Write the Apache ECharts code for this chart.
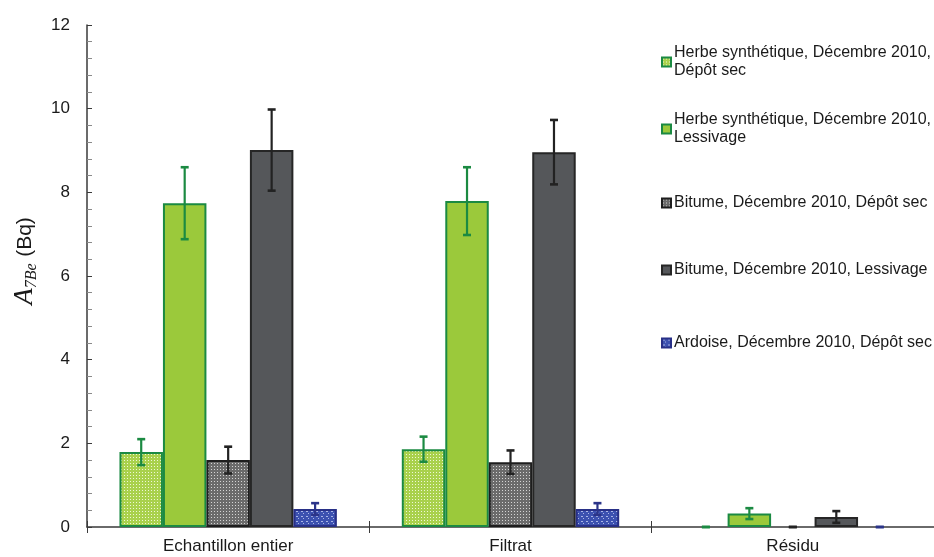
<!DOCTYPE html>
<html>
<head>
<meta charset="utf-8">
<script src="https://cdn.jsdelivr.net/npm/echarts@6/dist/echarts.min.js"></script>
<style>html,body{margin:0;padding:0;background:#fff;}#c{width:934px;height:557px;}</style>
</head>
<body>
<div id="c"></div>
<script>
const categories = ['Echantillon entier', 'Filtrat', 'Résidu'];
const seriesNames = [
  'Herbe synthétique, Décembre 2010, Dépôt sec',
  'Herbe synthétique, Décembre 2010, Lessivage',
  'Bitume, Décembre 2010, Dépôt sec',
  'Bitume, Décembre 2010, Lessivage',
  'Ardoise, Décembre 2010, Dépôt sec'
];
const herbeDepot = [1.79, 1.86, 0];
const herbeDepotErr = [0.31, 0.30, 0];
const herbeLess = [7.74, 7.79, 0.32];
const herbeLessErr = [0.86, 0.81, 0.13];
const bitumeDepot = [1.60, 1.55, 0];
const bitumeDepotErr = [0.32, 0.28, 0];
const bitumeLess = [9.01, 8.96, 0.24];
const bitumeLessErr = [0.97, 0.77, 0.14];
const ardoise = [0.43, 0.43, 0];
const ardoiseErr = [0.14, 0.14, 0];
const yTicks = [0, 2, 4, 6, 8, 10, 12];

const values = [herbeDepot, herbeLess, bitumeDepot, bitumeLess, ardoise];
const errors = [herbeDepotErr, herbeLessErr, bitumeDepotErr, bitumeLessErr, ardoiseErr];

function makePattern(size, bg, dot, dots) {
  const cv = document.createElement('canvas');
  cv.width = size; cv.height = size;
  const ctx = cv.getContext('2d');
  ctx.fillStyle = bg; ctx.fillRect(0, 0, size, size);
  ctx.fillStyle = dot;
  dots.forEach(d => ctx.fillRect(d[0], d[1], d[2] || 1, d[3] || 1));
  return { image: cv, repeat: 'repeat' };
}
const patHerbe = makePattern(3, '#a9d14c', '#eef7d6', [[1, 1]]);
const patBitume = makePattern(3, '#6b6b6b', '#d4d4d4', [[1, 1]]);
const patArdoise = makePattern(5, '#3c51b0', '#aab5e6', [[1, 1, 2, 1], [3, 3, 1, 1]]);

const fills = [patHerbe, '#9bc93b', patBitume, '#55575a', patArdoise];
const borders = ['#1b8a42', '#1b8a42', '#1e1e1e', '#262626', '#283087'];
const errColors = ['#1b8a42', '#1b8a42', '#222222', '#222222', '#2b3489'];

const gap = 0.23;
const nS = seriesNames.length;

const barSeries = seriesNames.map((name, i) => ({
  name: name,
  type: 'bar',
  barGap: '0%',
  barCategoryGap: (gap * 100) + '%',
  itemStyle: { color: fills[i], borderColor: borders[i], borderWidth: 2 },
  data: values[i].map(v => v === 0 ? { value: v, itemStyle: { borderWidth: 0 } } : v),
  z: 2
}));

const errData = [];
values.forEach((arr, s) => arr.forEach((v, c) => errData.push([c, s, v, errors[s][c]])));

const errSeries = {
  type: 'custom',
  name: 'err',
  z: 5,
  encode: { x: 0, y: 2 },
  data: errData,
  renderItem: function (params, api) {
    const cat = api.value(0), s = api.value(1), v = api.value(2), e = api.value(3);
    const bandW = api.size([1, 0])[0];
    const barW = bandW * (1 - gap) / nS;
    const c0 = api.coord([cat, 0]);
    const x = c0[0] + (s - (nS - 1) / 2) * barW;
    const yT = api.coord([cat, v + e])[1];
    const yB = api.coord([cat, Math.max(0, v - e)])[1];
    const hw = 4;
    const st = { stroke: errColors[s], lineWidth: 2.2 };
    return {
      type: 'group',
      children: [
        { type: 'line', shape: { x1: x, y1: yT, x2: x, y2: yB }, style: st },
        { type: 'line', shape: { x1: x - hw, y1: yT, x2: x + hw, y2: yT }, style: { stroke: errColors[s], lineWidth: 2.6 } },
        { type: 'line', shape: { x1: x - hw, y1: yB, x2: x + hw, y2: yB }, style: { stroke: errColors[s], lineWidth: 2.6 } }
      ]
    };
  }
};

const legendTops = [35, 102, 194, 261, 334];
const twoLine = [true, true, false, false, false];
const legends = seriesNames.map((n, i) => ({
  data: [n],
  left: 661,
  top: legendTops[i],
  orient: 'vertical',
  padding: 0,
  icon: 'rect',
  itemWidth: 9,
  itemHeight: 9,
  itemGap: 0,
  selectedMode: false,
  formatter: twoLine[i]
    ? function (name) { return name.replace('Décembre 2010, ', 'Décembre 2010,\n'); }
    : function (name) { return name; },
  textStyle: {
    fontFamily: 'Liberation Sans',
    fontSize: 16,
    color: '#1a1a1a',
    lineHeight: 18,
    padding: twoLine[i] ? [18, 0, 0, -2] : [0, 0, 0, -2]
  }
}));

const option = {
  animation: false,
  backgroundColor: '#fff',
  grid: { left: 87, right: 0, top: 25, bottom: 30, containLabel: false },
  legend: legends,
  xAxis: [{
    type: 'category',
    data: categories,
    axisLine: { lineStyle: { color: '#3a3a3a', width: 1.5 } },
    axisTick: { show: true, inside: false, length: 6, lineStyle: { color: '#3a3a3a' } },
    axisLabel: { fontFamily: 'Liberation Sans', fontSize: 17, color: '#1a1a1a', margin: 11 }
  }, {
    type: 'category',
    data: categories,
    position: 'bottom',
    axisLine: { show: false },
    axisTick: { show: true, inside: true, length: 6, lineStyle: { color: '#3a3a3a' } },
    axisLabel: { show: false }
  }],
  yAxis: {
    type: 'value',
    min: yTicks[0],
    max: yTicks[yTicks.length - 1],
    interval: 2,
    splitLine: { show: false },
    axisLine: { show: true, lineStyle: { color: '#3a3a3a', width: 1.5 } },
    axisTick: { show: true, inside: true, length: 5, lineStyle: { color: '#3a3a3a' } },
    minorTick: { show: true, splitNumber: 5, length: 5, lineStyle: { color: '#8a8a8a' } },
    axisLabel: { fontFamily: 'Liberation Sans', fontSize: 17, color: '#1a1a1a', margin: 17 },
    name: '{a|A}{s|7Be}  {b|(Bq)}',
    nameLocation: 'middle',
    nameGap: 45,
    nameTextStyle: {
      padding: [0, 0, 0, 30],
      rich: {
        a: { fontFamily: 'Liberation Serif', fontStyle: 'italic', fontSize: 27, color: '#1a1a1a', lineHeight: 30 },
        s: { fontFamily: 'Liberation Serif', fontStyle: 'italic', fontSize: 16, color: '#1a1a1a', verticalAlign: 'bottom', lineHeight: 16 },
        b: { fontFamily: 'Liberation Sans', fontSize: 21, color: '#1a1a1a', lineHeight: 30 }
      }
    }
  },
  series: barSeries.concat([errSeries])
};

const chart = echarts.init(document.getElementById('c'), null, { renderer: 'canvas' });
chart.setOption(option);
</script>
</body>
</html>
